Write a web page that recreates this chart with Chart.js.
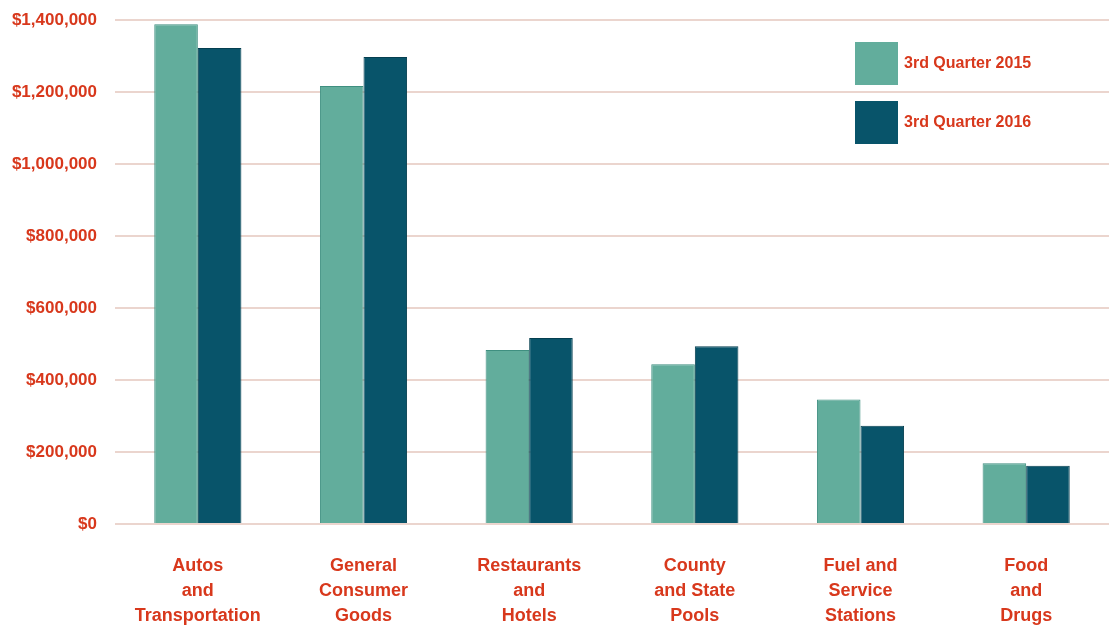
<!DOCTYPE html>
<html>
<head>
<meta charset="utf-8">
<script src="https://cdn.jsdelivr.net/npm/chart.js@4"></script>
<style>
    body { margin: 0; background: #fff; }
    #wrap { width: 1115px; height: 628px; }
</style>
</head>
<body>
<div id="wrap"><canvas id="salesChart" width="1115" height="628"></canvas></div>
<script>
const categories = [
    ['Autos', 'and', 'Transportation'],
    ['General', 'Consumer', 'Goods'],
    ['Restaurants', 'and', 'Hotels'],
    ['County', 'and State', 'Pools'],
    ['Fuel and', 'Service', 'Stations'],
    ['Food', 'and', 'Drugs']
];
const seriesNames = ['3rd Quarter 2015', '3rd Quarter 2016'];
const q3_2015 = [1388000, 1217000, 483000, 444000, 346000, 169000];
const q3_2016 = [1322000, 1297000, 517000, 494000, 273000, 162000];
const yTicks = [0, 200000, 400000, 600000, 800000, 1000000, 1200000, 1400000];

const RED = '#d8381c';
const FONT = '"Liberation Sans Narrow", "Liberation Sans", Arial, sans-serif';

// Legend drawn inside the plot, top right
const boxLegend = {
    id: 'boxLegend',
    afterDatasetsDraw(chart) {
        const ctx = chart.ctx;
        const x = 855, size = 43;
        const tops = [42, 101];
        ctx.save();
        chart.data.datasets.forEach((ds, i) => {
            ctx.fillStyle = ds.backgroundColor;
            ctx.fillRect(x, tops[i], size, size);
            ctx.fillStyle = RED;
            ctx.font = 'bold 16px ' + FONT;
            ctx.textBaseline = 'middle';
            ctx.textAlign = 'left';
            ctx.fillText(ds.label, x + 49, tops[i] + size / 2);
        });
        ctx.restore();
    }
};

const ctx = document.getElementById('salesChart').getContext('2d');
new Chart(ctx, {
    type: 'bar',
    data: {
        labels: categories,
        datasets: [
            {
                label: seriesNames[0],
                data: q3_2015,
                backgroundColor: '#62ad9c',
                borderColor: '#3f8f80',
                borderWidth: 1
            },
            {
                label: seriesNames[1],
                data: q3_2016,
                backgroundColor: '#08546a',
                borderColor: '#053f50',
                borderWidth: 1
            }
        ]
    },
    options: {
        responsive: false,
        animation: false,
        layout: { padding: { top: 0, right: 6, bottom: 0, left: 0 } },
        categoryPercentage: 0.526,
        barPercentage: 1,
        scales: {
            x: {
                grid: { display: false },
                border: { display: false },
                afterFit: s => { s.height = 104; },
                ticks: {
                    color: RED,
                    padding: 22,
                    maxRotation: 0,
                    autoSkip: false,
                    font: { family: FONT, size: 18, weight: 'bold', lineHeight: '25px' }
                }
            },
            y: {
                min: 0,
                max: 1400000,
                afterFit: s => { s.width = 115; s.paddingTop = 20; },
                afterBuildTicks: s => { s.ticks = yTicks.map(v => ({ value: v })); },
                border: { display: false },
                grid: {
                    color: 'rgba(226, 195, 185, 0.7)',
                    lineWidth: 2,
                    drawTicks: false
                },
                ticks: {
                    color: RED,
                    padding: 18,
                    font: { family: FONT, size: 17, weight: 'bold' },
                    callback: v => '$' + v.toLocaleString('en-US')
                }
            }
        },
        plugins: {
            legend: { display: false },
            tooltip: { enabled: false }
        }
    },
    plugins: [boxLegend]
});
</script>
</body>
</html>
